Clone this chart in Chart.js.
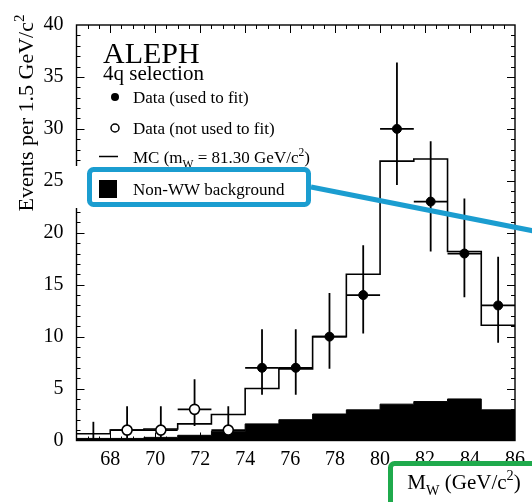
<!DOCTYPE html>
<html>
<head>
<meta charset="utf-8">
<script src="https://cdn.jsdelivr.net/npm/chart.js@4.4.0/dist/chart.umd.min.js"></script>
<style>
    html, body { margin: 0; padding: 0; background: #fff; }
    #wrap { position: relative; width: 532px; height: 502px; }
</style>
</head>
<body>
<div id="wrap"><canvas id="mw_chart" width="532" height="502"></canvas></div>
<script>
// histogram bins, 1.5 GeV wide
const binEdges = [66.5, 68, 69.5, 71, 72.5, 74, 75.5, 77, 78.5, 80, 81.5, 83, 84.5, 86];
const mcValues = [0.65, 1.0, 1.1, 1.6, 2.5, 5.0, 6.9, 10.0, 16.0, 26.9, 27.1, 18.2, 11.1];
const bgValues = [0.2, 0.2, 0.3, 0.5, 0.9, 1.6, 2.0, 2.55, 2.95, 3.5, 3.75, 4.0, 2.95];

// data used in the fit
const fitX = [74.75, 76.25, 77.75, 79.25, 80.75, 82.25, 83.75, 85.25];
const fitY = [7, 7, 10, 14, 30, 23, 18, 13];
const fitLow = [4.4, 4.4, 6.9, 10.3, 24.6, 18.2, 13.8, 9.4];
const fitHigh = [10.7, 10.7, 14.2, 18.8, 36.4, 28.8, 23.3, 17.7];

// data not used in the fit
const otherX = [67.25, 68.75, 70.25, 71.75, 73.25];
const otherY = [0, 1, 1, 3, 1];
const otherLow = [0, 0.2, 0.2, 1.4, 0.2];
const otherHigh = [1.8, 3.3, 3.3, 5.9, 3.3];

const xTickLabels = [68, 70, 72, 74, 76, 78, 80, 82, 84, 86];
const yTickLabels = [0, 5, 10, 15, 20, 25, 30, 35, 40];
const binHalfWidth = 0.75;

const SERIF = '"Liberation Serif", "DejaVu Serif", serif';
const BLUE = '#1b9dd0';
const GREEN = '#1faa4c';

(function(){

    function stepPoints(values) {
        return binEdges.map((x, i) => ({x: x, y: values[Math.min(i, values.length - 1)]}));
    }

    function drawRich(ctx, parts, x, y, size) {
        parts.forEach((p) => {
            const s = (p.sub || p.sup) ? size * 0.68 : size;
            ctx.font = s + 'px ' + SERIF;
            const dy = p.sub ? size * 0.3 : (p.sup ? -size * 0.42 : 0);
            ctx.fillText(p.t, x, y + dy);
            x += ctx.measureText(p.t).width;
        });
        return x;
    }

    function richWidth(ctx, parts, size) {
        let w = 0;
        parts.forEach((p) => {
            const s = (p.sub || p.sup) ? size * 0.68 : size;
            ctx.font = s + 'px ' + SERIF;
            w += ctx.measureText(p.t).width;
        });
        return w;
    }

    const errorBars = {
        id: 'errorBars',
        beforeDatasetDraw(chart, args) {
            const ds = chart.data.datasets[args.index];
            if (!ds.errLow) return;
            const {ctx, scales: {x, y}} = chart;
            ctx.save();
            ctx.strokeStyle = '#000';
            ctx.lineWidth = 1.8;
            ds.data.forEach((p, i) => {
                const px = x.getPixelForValue(p.x);
                ctx.beginPath();
                ctx.moveTo(px, y.getPixelForValue(ds.errLow[i]));
                ctx.lineTo(px, y.getPixelForValue(ds.errHigh[i]));
                if (p.y > 0) {
                    const py = y.getPixelForValue(p.y);
                    ctx.moveTo(x.getPixelForValue(p.x - binHalfWidth), py);
                    ctx.lineTo(x.getPixelForValue(p.x + binHalfWidth), py);
                }
                ctx.stroke();
            });
            ctx.restore();
        }
    };

    const frameTicks = {
        id: 'frameTicks',
        afterDatasetsDraw(chart) {
            const {ctx, chartArea: a, scales: {x, y}} = chart;
            ctx.save();
            ctx.strokeStyle = '#000';
            ctx.lineWidth = 1;
            ctx.beginPath();
            for (let v = 67; v < 86; v += 0.5) {
                const len = (v % 2 === 0) ? 8 : 4;
                const px = Math.round(x.getPixelForValue(v)) + 0.5;
                ctx.moveTo(px, a.top);
                ctx.lineTo(px, a.top + len);
                ctx.moveTo(px, a.bottom);
                ctx.lineTo(px, a.bottom - len);
            }
            for (let v = 1; v < 40; v++) {
                const len = (v % 5 === 0) ? 8 : 4;
                const py = Math.round(y.getPixelForValue(v)) + 0.5;
                ctx.moveTo(a.left, py);
                ctx.lineTo(a.left + len, py);
                ctx.moveTo(a.right, py);
                ctx.lineTo(a.right - len, py);
            }
            ctx.stroke();
            ctx.lineWidth = 1.4;
            ctx.strokeRect(a.left, a.top, a.right - a.left, a.bottom - a.top);
            ctx.restore();
        }
    };

    const legendAndNotes = {
        id: 'legendAndNotes',
        afterDraw(chart) {
            const ctx = chart.ctx;
            ctx.save();
            ctx.fillStyle = '#000';
            ctx.textBaseline = 'alphabetic';

            // axis titles
            const yTitle = [{t: 'Events per 1.5 GeV/c'}, {t: '2', sup: true}];
            ctx.save();
            ctx.translate(33, 113);
            ctx.rotate(-Math.PI / 2);
            drawRich(ctx, yTitle, -richWidth(ctx, yTitle, 22) / 2, 0, 22);
            ctx.restore();

            const xTitle = [{t: 'M'}, {t: 'W', sub: true}, {t: ' (GeV/c'}, {t: '2', sup: true}, {t: ')'}];
            drawRich(ctx, xTitle, 464 - richWidth(ctx, xTitle, 21) / 2, 489, 21);

            // white patch behind the highlighted legend row
            ctx.fillStyle = '#fff';
            ctx.fillRect(66, 166, 245, 42);
            ctx.fillStyle = '#000';

            // header
            ctx.font = '30px ' + SERIF;
            ctx.fillText('ALEPH', 103, 63);
            ctx.font = '21px ' + SERIF;
            ctx.fillText('4q selection', 103, 80);

            // legend entries
            ctx.font = '17px ' + SERIF;
            ctx.beginPath();
            ctx.arc(115, 97, 4, 0, Math.PI * 2);
            ctx.fill();
            ctx.fillText('Data (used to fit)', 133, 103);

            ctx.beginPath();
            ctx.arc(115, 128, 4, 0, Math.PI * 2);
            ctx.lineWidth = 1.5;
            ctx.strokeStyle = '#000';
            ctx.stroke();
            ctx.fillText('Data (not used to fit)', 133, 134);

            ctx.beginPath();
            ctx.moveTo(99, 156.5);
            ctx.lineTo(118, 156.5);
            ctx.stroke();
            drawRich(ctx, [{t: 'MC (m'}, {t: 'W', sub: true}, {t: ' = 81.30 GeV/c'}, {t: '2', sup: true}, {t: ')'}], 133, 163, 17);

            ctx.fillRect(99, 180, 18, 18);
            ctx.font = '17px ' + SERIF;
            ctx.fillText('Non-WW background', 133, 195);

            // highlight annotations
            ctx.strokeStyle = BLUE;
            ctx.lineWidth = 5;
            ctx.beginPath();
            ctx.roundRect(89.5, 169.5, 219, 35, 4);
            ctx.stroke();
            ctx.beginPath();
            ctx.moveTo(311, 187);
            ctx.lineTo(534, 231);
            ctx.stroke();

            ctx.strokeStyle = GREEN;
            ctx.beginPath();
            ctx.roundRect(390.5, 463.5, 150, 50, 4);
            ctx.stroke();
            ctx.restore();
        }
    };

    const canvas = document.getElementById('mw_chart').getContext('2d');
    const myChart = new Chart(canvas, {
        type: 'scatter',
        data: {
            datasets: [{
                label: 'Data (used to fit)',
                data: fitX.map((x, i) => ({x: x, y: fitY[i]})),
                errLow: fitLow,
                errHigh: fitHigh,
                pointRadius: 4.5,
                pointBackgroundColor: '#000',
                pointBorderColor: '#000',
                pointBorderWidth: 1,
                order: 0
            }, {
                label: 'Data (not used to fit)',
                data: otherX.map((x, i) => ({x: x, y: otherY[i]})),
                errLow: otherLow,
                errHigh: otherHigh,
                pointRadius: (c) => otherY[c.dataIndex] > 0 ? 5 : 0,
                pointBackgroundColor: '#fff',
                pointBorderColor: '#000',
                pointBorderWidth: 1.6,
                order: 0
            }, {
                type: 'line',
                label: 'MC',
                data: stepPoints(mcValues),
                stepped: 'before',
                borderColor: '#000',
                borderWidth: 1.6,
                pointRadius: 0,
                fill: false,
                order: 1
            }, {
                type: 'line',
                label: 'Non-WW background',
                data: stepPoints(bgValues),
                stepped: 'before',
                borderColor: '#000',
                borderWidth: 1,
                backgroundColor: '#000',
                pointRadius: 0,
                fill: 'origin',
                order: 2
            }]
        },
        options: {
            responsive: false,
            devicePixelRatio: 1,
            animation: false,
            layout: {
                padding: {top: 13.5, right: 11.5, left: 0, bottom: 0}
            },
            plugins: {
                legend: {display: false},
                tooltip: {enabled: false}
            },
            scales: {
                x: {
                    type: 'linear',
                    min: 66.5,
                    max: 86,
                    afterFit: (scale) => { scale.height = 61.5; },
                    afterBuildTicks: (scale) => { scale.ticks = xTickLabels.map((v) => ({value: v})); },
                    grid: {display: false, drawTicks: false},
                    border: {display: false},
                    ticks: {
                        padding: 7,
                        color: '#000',
                        maxRotation: 0,
                        font: {family: SERIF, size: 20}
                    }
                },
                y: {
                    type: 'linear',
                    min: 0,
                    max: 40,
                    afterFit: (scale) => { scale.width = 76.5; },
                    afterBuildTicks: (scale) => { scale.ticks = yTickLabels.map((v) => ({value: v})); },
                    grid: {display: false, drawTicks: false},
                    border: {display: false},
                    ticks: {
                        padding: 13,
                        color: '#000',
                        font: {family: SERIF, size: 20}
                    }
                }
            }
        },
        plugins: [errorBars, frameTicks, legendAndNotes]
    });
})();
</script>
</body>
</html>
